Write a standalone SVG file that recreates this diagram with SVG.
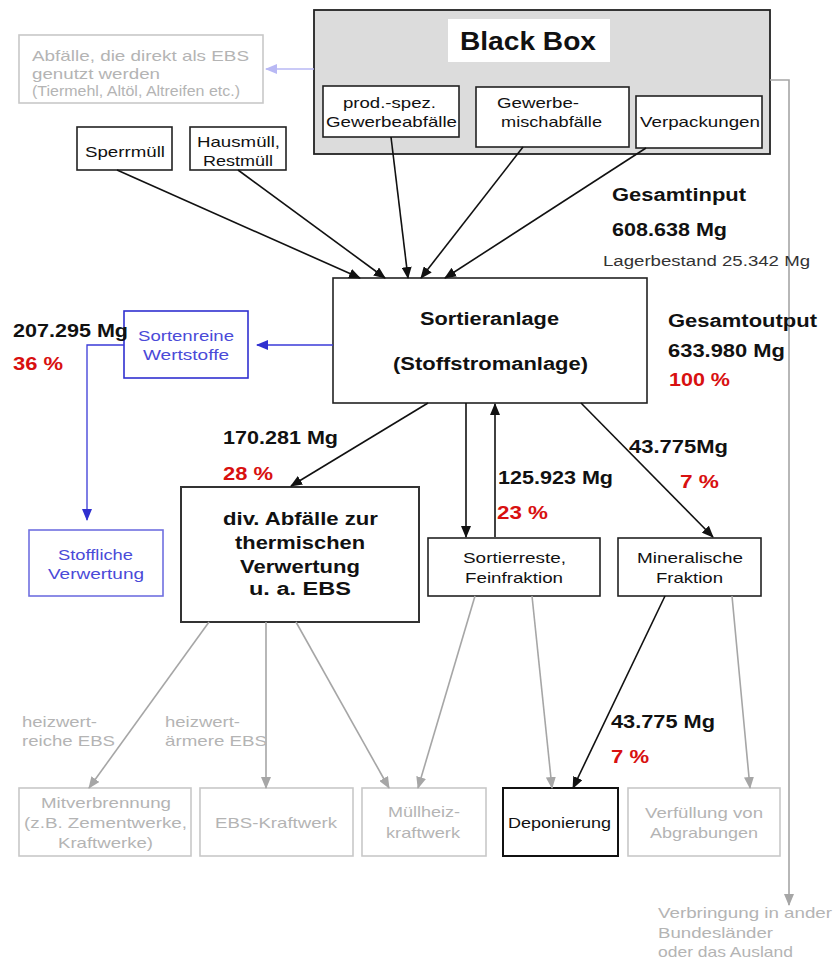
<svg xmlns="http://www.w3.org/2000/svg" width="839" height="962" viewBox="0 0 839 962">
<style>
text{font-family:"Liberation Sans",Arial,sans-serif}
.t{font-size:15px;fill:#111}
.big{font-size:17.5px;font-weight:bold;fill:#111}
.red{font-size:18px;font-weight:bold;fill:#d81010}
.g{font-size:15px;fill:#b4b4b4}
.hb{font-size:17.5px;font-weight:bold;fill:#111}
.box{fill:#fff;stroke:#222;stroke-width:1.6}
.gbox{fill:#fff;stroke:#c8c8c8;stroke-width:1.6}
.blue{fill:#fff;stroke:#3030d0;stroke-width:1.6}
.bt{font-size:15px;fill:#4a4ad8}
.k{stroke:#111;stroke-width:1.6;fill:none}
.gr{stroke:#a6a6a6;stroke-width:1.6;fill:none}
.bl{stroke:#3a3ad8;stroke-width:1.3;fill:none}
.lb{stroke:#b8b8f4;stroke-width:1.6;fill:none}
</style>
<defs>
<marker id="ak" markerWidth="12" markerHeight="10" refX="11" refY="5" orient="auto" markerUnits="userSpaceOnUse"><path d="M0,0 L12,5 L0,10 z" fill="#111"/></marker>
<marker id="ag" markerWidth="12" markerHeight="10" refX="11" refY="5" orient="auto" markerUnits="userSpaceOnUse"><path d="M0,0 L12,5 L0,10 z" fill="#a6a6a6"/></marker>
<marker id="ab" markerWidth="12" markerHeight="10" refX="11" refY="5" orient="auto" markerUnits="userSpaceOnUse"><path d="M0,0 L12,5 L0,10 z" fill="#3030d0"/></marker>
<marker id="alb" markerWidth="12" markerHeight="10" refX="11" refY="5" orient="auto" markerUnits="userSpaceOnUse"><path d="M0,0 L12,5 L0,10 z" fill="#b8b8f4"/></marker>
</defs>

<g id="blackbox">
<rect x="314" y="10" width="456" height="144" fill="#dcdcdc" stroke="#222" stroke-width="1.8"/>
<rect x="448" y="19" width="162" height="43" fill="#fff"/>
<text x="460" y="50" font-weight="bold" font-size="25" fill="#111" textLength="136" lengthAdjust="spacingAndGlyphs">Black Box</text>
</g>
<g id="prodspez">
<rect x="323" y="86" width="136" height="51" class="box"/>
<text x="343" y="108" class="t" textLength="93" lengthAdjust="spacingAndGlyphs">prod.-spez.</text>
<text x="326" y="127" class="t" textLength="131" lengthAdjust="spacingAndGlyphs">Gewerbeabfälle</text>
</g>
<g id="gewerbe">
<rect x="476" y="87" width="153" height="60" class="box"/>
<text x="497" y="108" class="t" textLength="82" lengthAdjust="spacingAndGlyphs">Gewerbe-</text>
<text x="501" y="127" class="t" textLength="101" lengthAdjust="spacingAndGlyphs">mischabfälle</text>
</g>
<g id="verpackungen">
<rect x="636" y="96" width="126" height="52" class="box"/>
<text x="640" y="127" class="t" textLength="120" lengthAdjust="spacingAndGlyphs">Verpackungen</text>
</g>
<g id="abfaelle">
<rect x="19" y="35" width="244" height="68" class="gbox"/>
<text x="32" y="61" class="g" font-size="16" textLength="217" lengthAdjust="spacingAndGlyphs">Abfälle, die direkt als EBS</text>
<text x="32" y="79" class="g" font-size="16" textLength="128" lengthAdjust="spacingAndGlyphs">genutzt werden</text>
<text x="32" y="96" class="g" font-size="12" textLength="208" lengthAdjust="spacingAndGlyphs">(Tiermehl, Altöl, Altreifen etc.)</text>
</g>
<g id="sperrmuell">
<rect x="77" y="127" width="95" height="43" class="box"/>
<text x="85" y="157" class="t" textLength="80" lengthAdjust="spacingAndGlyphs">Sperrmüll</text>
</g>
<g id="hausmuell">
<rect x="190" y="127" width="96" height="43" class="box"/>
<text x="197" y="147" class="t" textLength="83" lengthAdjust="spacingAndGlyphs">Hausmüll,</text>
<text x="203" y="166" class="t" textLength="70" lengthAdjust="spacingAndGlyphs">Restmüll</text>
</g>
<g id="sortieranlage">
<rect x="333" y="278" width="314" height="125" fill="#fff" stroke="#222" stroke-width="1.6"/>
<text x="420" y="325" class="hb" textLength="139" lengthAdjust="spacingAndGlyphs">Sortieranlage</text>
<text x="393" y="370" class="hb" textLength="195" lengthAdjust="spacingAndGlyphs">(Stoffstromanlage)</text>
</g>
<g id="sortenreine">
<rect x="124" y="311" width="124" height="67" class="blue"/>
<text x="138" y="341" class="bt" textLength="96" lengthAdjust="spacingAndGlyphs">Sortenreine</text>
<text x="143" y="360" class="bt" textLength="86" lengthAdjust="spacingAndGlyphs">Wertstoffe</text>
</g>
<g id="stoffliche">
<rect x="29" y="530" width="134" height="66" fill="#fff" stroke="#7070e0" stroke-width="1.6"/>
<text x="58" y="560" class="bt" textLength="75" lengthAdjust="spacingAndGlyphs">Stoffliche</text>
<text x="48" y="579" class="bt" textLength="96" lengthAdjust="spacingAndGlyphs">Verwertung</text>
</g>
<g id="div">
<rect x="181" y="487" width="238" height="135" fill="#fff" stroke="#333" stroke-width="2"/>
<text x="223" y="525" class="hb" textLength="155" lengthAdjust="spacingAndGlyphs">div. Abfälle zur</text>
<text x="235" y="549" class="hb" textLength="130" lengthAdjust="spacingAndGlyphs">thermischen</text>
<text x="240" y="573" class="hb" textLength="120" lengthAdjust="spacingAndGlyphs">Verwertung</text>
<text x="249" y="595" class="hb" textLength="102" lengthAdjust="spacingAndGlyphs">u. a.  EBS</text>
</g>
<g id="sortierreste">
<rect x="428" y="538" width="172" height="58" class="box"/>
<text x="463" y="563" class="t" textLength="103" lengthAdjust="spacingAndGlyphs">Sortierreste,</text>
<text x="465" y="583" class="t" textLength="98" lengthAdjust="spacingAndGlyphs">Feinfraktion</text>
</g>
<g id="mineralische">
<rect x="618" y="538" width="143" height="58" class="box"/>
<text x="637" y="563" class="t" textLength="106" lengthAdjust="spacingAndGlyphs">Mineralische</text>
<text x="656" y="583" class="t" textLength="67" lengthAdjust="spacingAndGlyphs">Fraktion</text>
</g>
<g id="mitverbrennung">
<rect x="19" y="788" width="172" height="68" class="gbox"/>
<text x="41" y="808" class="g" textLength="130" lengthAdjust="spacingAndGlyphs">Mitverbrennung</text>
<text x="24" y="828" class="g" textLength="163" lengthAdjust="spacingAndGlyphs">(z.B. Zementwerke,</text>
<text x="58" y="848" class="g" textLength="95" lengthAdjust="spacingAndGlyphs">Kraftwerke)</text>
</g>
<g id="ebskraftwerk">
<rect x="200" y="788" width="153" height="68" class="gbox"/>
<text x="215" y="828" class="g" textLength="122" lengthAdjust="spacingAndGlyphs">EBS-Kraftwerk</text>
</g>
<g id="muellheiz">
<rect x="362" y="788" width="124" height="68" class="gbox"/>
<text x="388" y="817" class="g" textLength="72" lengthAdjust="spacingAndGlyphs">Müllheiz-</text>
<text x="386" y="838" class="g" textLength="74" lengthAdjust="spacingAndGlyphs">kraftwerk</text>
</g>
<g id="deponierung">
<rect x="503" y="788" width="115" height="68" fill="#fff" stroke="#111" stroke-width="2"/>
<text x="508" y="828" class="t" textLength="103" lengthAdjust="spacingAndGlyphs">Deponierung</text>
</g>
<g id="verfuellung">
<rect x="628" y="788" width="152" height="68" class="gbox"/>
<text x="645" y="818" class="g" textLength="118" lengthAdjust="spacingAndGlyphs">Verfüllung von</text>
<text x="650" y="838" class="g" textLength="108" lengthAdjust="spacingAndGlyphs">Abgrabungen</text>
</g>

<g id="connectors">
<line x1="314" y1="69" x2="266" y2="69" class="lb" marker-end="url(#alb)"/>
<line x1="117" y1="170" x2="360" y2="278" class="k" marker-end="url(#ak)"/>
<line x1="238" y1="170" x2="385" y2="278" class="k" marker-end="url(#ak)"/>
<line x1="391" y1="137" x2="408" y2="278" class="k" marker-end="url(#ak)"/>
<line x1="523" y1="147" x2="421" y2="278" class="k" marker-end="url(#ak)"/>
<line x1="646" y1="148" x2="445" y2="278" class="k" marker-end="url(#ak)"/>
<line x1="333" y1="345" x2="257" y2="345" class="bl" marker-end="url(#ab)"/>
<polyline points="124,345 87,345 87,520" class="bl" marker-end="url(#ab)"/>
<line x1="428" y1="403" x2="291" y2="486" class="k" marker-end="url(#ak)"/>
<line x1="466" y1="403" x2="466" y2="537" class="k" marker-end="url(#ak)"/>
<line x1="495" y1="537" x2="495" y2="404" class="k" marker-end="url(#ak)"/>
<line x1="581" y1="403" x2="713" y2="537" class="k" marker-end="url(#ak)"/>
<line x1="665" y1="596" x2="573" y2="788" class="k" marker-end="url(#ak)"/>
<line x1="209" y1="622" x2="89" y2="788" class="gr" marker-end="url(#ag)"/>
<line x1="266" y1="622" x2="266" y2="788" class="gr" marker-end="url(#ag)"/>
<line x1="296" y1="622" x2="389" y2="788" class="gr" marker-end="url(#ag)"/>
<line x1="475" y1="596" x2="418" y2="788" class="gr" stroke-width="1.2" marker-end="url(#ag)"/>
<line x1="532" y1="596" x2="552" y2="788" class="gr" stroke-width="1.2" marker-end="url(#ag)"/>
<line x1="732" y1="596" x2="750" y2="788" class="gr" stroke-width="1.2" marker-end="url(#ag)"/>
<polyline points="770,80 789,80 789,905" class="gr" stroke-width="1.2" marker-end="url(#ag)"/>
</g>

<g id="labels">
<text x="612" y="201" class="big" textLength="134" lengthAdjust="spacingAndGlyphs">Gesamtinput</text>
<text x="612" y="236" class="big" textLength="115" lengthAdjust="spacingAndGlyphs">608.638 Mg</text>
<text x="603" y="266" font-size="14" fill="#333" textLength="207" lengthAdjust="spacingAndGlyphs">Lagerbestand 25.342 Mg</text>
<text x="668" y="327" class="big" textLength="149" lengthAdjust="spacingAndGlyphs">Gesamtoutput</text>
<text x="668" y="357" class="big" textLength="117" lengthAdjust="spacingAndGlyphs">633.980 Mg</text>
<text x="669" y="386" class="red" textLength="61" lengthAdjust="spacingAndGlyphs">100 %</text>
<text x="13" y="337" class="big" textLength="115" lengthAdjust="spacingAndGlyphs">207.295 Mg</text>
<text x="13" y="370" class="red" textLength="50" lengthAdjust="spacingAndGlyphs">36 %</text>
<text x="223" y="444" class="big" textLength="115" lengthAdjust="spacingAndGlyphs">170.281 Mg</text>
<text x="223" y="480" class="red" textLength="50" lengthAdjust="spacingAndGlyphs">28 %</text>
<text x="498" y="484" class="big" textLength="115" lengthAdjust="spacingAndGlyphs">125.923 Mg</text>
<text x="497" y="519" class="red" textLength="51" lengthAdjust="spacingAndGlyphs">23 %</text>
<text x="629" y="453" class="big" textLength="99" lengthAdjust="spacingAndGlyphs">43.775Mg</text>
<text x="680" y="488" class="red" textLength="39" lengthAdjust="spacingAndGlyphs">7 %</text>
<text x="611" y="728" class="big" textLength="104" lengthAdjust="spacingAndGlyphs">43.775 Mg</text>
<text x="611" y="763" class="red" textLength="38" lengthAdjust="spacingAndGlyphs">7 %</text>
<text x="22" y="727" class="g" textLength="75" lengthAdjust="spacingAndGlyphs">heizwert-</text>
<text x="22" y="746" class="g" textLength="93" lengthAdjust="spacingAndGlyphs">reiche EBS</text>
<text x="165" y="727" class="g" textLength="75" lengthAdjust="spacingAndGlyphs">heizwert-</text>
<text x="165" y="746" class="g" textLength="102" lengthAdjust="spacingAndGlyphs">ärmere EBS</text>
<text x="658" y="918" class="g" textLength="174" lengthAdjust="spacingAndGlyphs">Verbringung in ander</text>
<text x="658" y="938" class="g" textLength="115" lengthAdjust="spacingAndGlyphs">Bundesländer</text>
<text x="658" y="957" class="g" textLength="135" lengthAdjust="spacingAndGlyphs">oder das Ausland</text>
</g>
</svg>
